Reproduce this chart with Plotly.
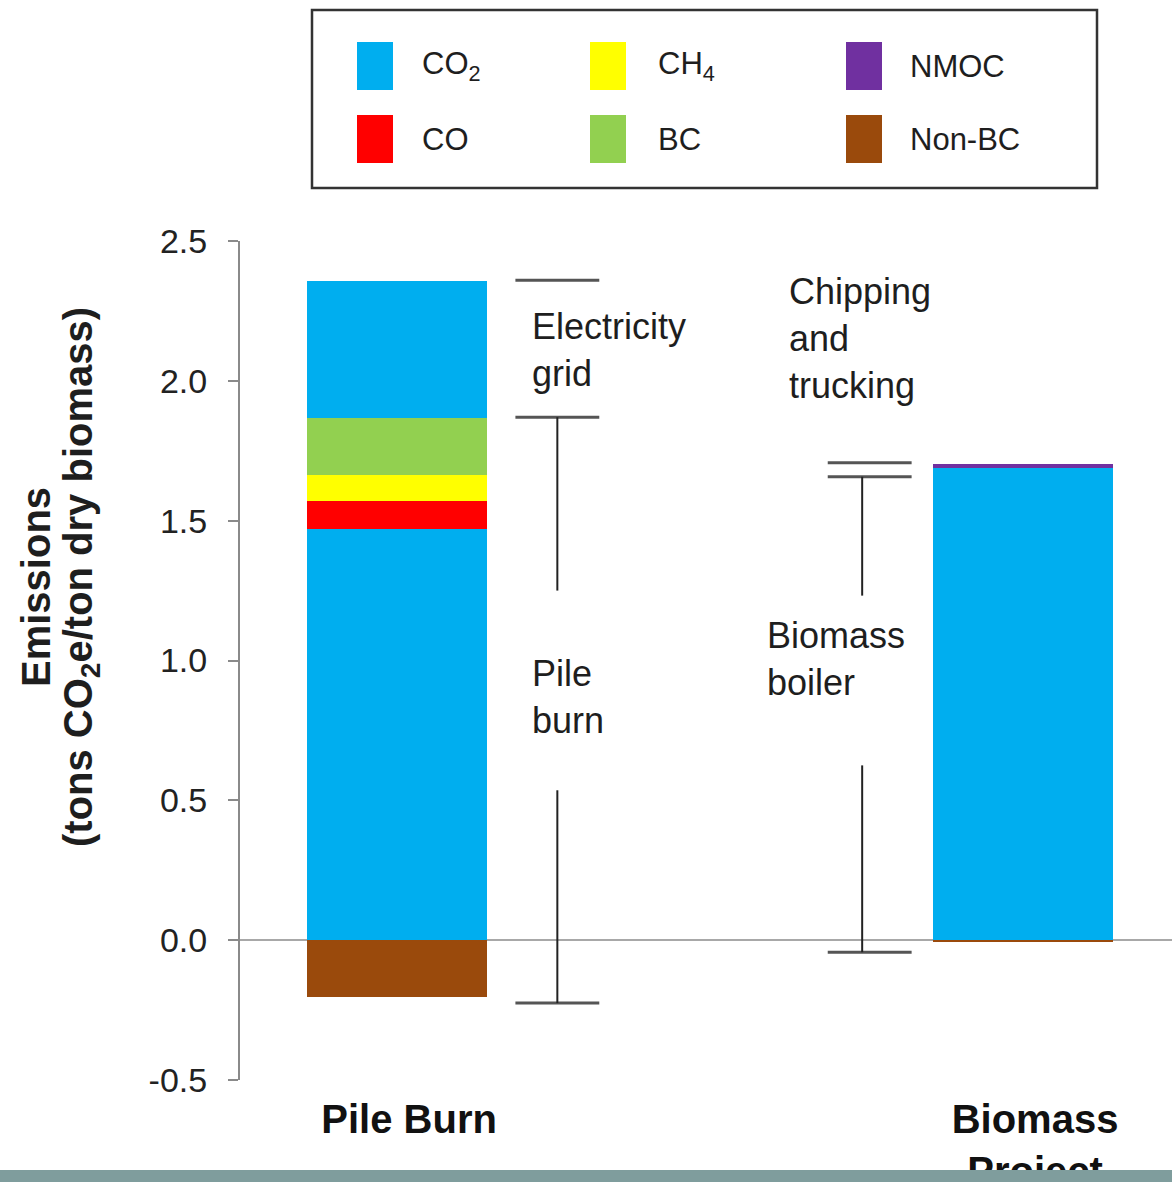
import plotly.graph_objects as go

# ---------------- data ----------------
categories = ["Pile Burn", "Biomass<br>Project"]
co2_direct = [1.47, 1.69]
co_vals = [0.10, 0.0]
ch4_vals = [0.093, 0.0]
bc_vals = [0.204, 0.0]
nmoc_vals = [0.0, 0.012]
co2_grid = [0.489, 0.0]
nonbc_vals = [-0.204, -0.006]

pile_bracket_levels = [2.36, 1.87, -0.225]      # electricity grid top, split, pile burn bottom
biomass_bracket_levels = [1.707, 1.657, -0.043]  # chipping top, split, boiler bottom

ytick_vals = [-0.5, 0.0, 0.5, 1.0, 1.5, 2.0, 2.5]
ytick_text = ["-0.5", "0.0", "0.5", "1.0", "1.5", "2.0", "2.5"]

legend_names = ["CO<sub>2</sub>", "CH<sub>4</sub>", "NMOC", "CO", "BC", "Non-BC"]
legend_colors = ["#00AEEF", "#FFFF00", "#7030A0", "#FF0000", "#92D050", "#9A4A0C"]

C_CO2, C_CH4, C_NMOC, C_CO, C_BC, C_NONBC = legend_colors

# ---------------- layout geometry ----------------
W, H = 1172, 1182
L, R, T, B = 240, 0, 241, 102
PW, PH = W - L - R, H - T - B


def px_x(px):
    return (px - L) / PW


def px_y(py):
    return (H - B - py) / PH


FONT = "Liberation Sans, Arial, sans-serif"
TXT = "#1e1e1e"
BAR_W = 0.2875

fig = go.Figure()
series = [
    ("CO2", co2_direct, C_CO2),
    ("CO", co_vals, C_CO),
    ("CH4", ch4_vals, C_CH4),
    ("BC", bc_vals, C_BC),
    ("NMOC", nmoc_vals, C_NMOC),
    ("CO2 grid", co2_grid, C_CO2),
    ("Non-BC", nonbc_vals, C_NONBC),
]
for name, vals, col in series:
    fig.add_trace(go.Bar(
        x=categories, y=vals, name=name, width=BAR_W,
        marker=dict(color=col, line=dict(width=0)),
        showlegend=False,
    ))

shapes = []
annos = []
LINE = dict(color="#222222", width=2)
CAP = dict(color="#555555", width=3)

# Pile burn brackets
px0 = 0.256
half = 0.067
for lv in pile_bracket_levels:
    shapes.append(dict(type="line", xref="x", yref="y", x0=px0 - half, x1=px0 + half,
                       y0=lv, y1=lv, line=CAP))
shapes.append(dict(type="line", xref="x", yref="y", x0=px0, x1=px0,
                   y0=pile_bracket_levels[1], y1=1.25, line=LINE))
shapes.append(dict(type="line", xref="x", yref="y", x0=px0, x1=px0,
                   y0=0.536, y1=pile_bracket_levels[2], line=LINE))

# Biomass brackets
bx0 = 0.743
bcx = 0.755
for lv in biomass_bracket_levels:
    shapes.append(dict(type="line", xref="x", yref="y", x0=bcx - half, x1=bcx + half,
                       y0=lv, y1=lv, line=CAP))
shapes.append(dict(type="line", xref="x", yref="y", x0=bx0, x1=bx0,
                   y0=biomass_bracket_levels[1], y1=1.232, line=LINE))
shapes.append(dict(type="line", xref="x", yref="y", x0=bx0, x1=bx0,
                   y0=0.625, y1=biomass_bracket_levels[2], line=LINE))

TF = dict(family=FONT, size=36, color=TXT)
annos.append(dict(x=0.2125, y=2.109, xref="x", yref="y", text="Electricity<br>grid",
                  showarrow=False, xanchor="left", yanchor="middle", align="left", font=TF))
annos.append(dict(x=0.2125, y=0.871, xref="x", yref="y", text="Pile<br>burn",
                  showarrow=False, xanchor="left", yanchor="middle", align="left", font=TF))
annos.append(dict(x=0.623, y=2.15, xref="x", yref="y", text="Chipping<br>and<br>trucking",
                  showarrow=False, xanchor="left", yanchor="middle", align="left", font=TF))
annos.append(dict(x=0.588, y=1.004, xref="x", yref="y", text="Biomass<br>boiler",
                  showarrow=False, xanchor="left", yanchor="middle", align="left", font=TF))

# Y axis title (two lines)
YT = dict(family=FONT, size=40, color=TXT)
annos.append(dict(x=px_x(36), y=px_y(587), xref="paper", yref="paper", text="<b>Emissions</b>",
                  textangle=-90, showarrow=False, xanchor="center", yanchor="middle", font=YT))
annos.append(dict(x=px_x(81), y=px_y(577), xref="paper", yref="paper",
                  text="<b>(tons CO<sub>2</sub>e/ton dry biomass)</b>",
                  textangle=-90, showarrow=False, xanchor="center", yanchor="middle", font=YT))

# Legend box (drawn)
shapes.append(dict(type="rect", xref="paper", yref="paper",
                   x0=px_x(312), x1=px_x(1097), y0=px_y(188), y1=px_y(10),
                   line=dict(color="#333333", width=2.5), fillcolor="white"))
col_sw_x = [357, 590, 846]
col_tx_x = [420, 656, 908]
row_y = [66, 139]
for i, (nm, colr) in enumerate(zip(legend_names, legend_colors)):
    r, c = divmod(i, 3)
    cy = row_y[r]
    shapes.append(dict(type="rect", xref="paper", yref="paper",
                       x0=px_x(col_sw_x[c]), x1=px_x(col_sw_x[c] + 36),
                       y0=px_y(cy + 24), y1=px_y(cy - 24),
                       line=dict(width=0), fillcolor=colr))
    annos.append(dict(x=px_x(col_tx_x[c]), y=px_y(cy), xref="paper", yref="paper",
                      text=nm, showarrow=False, xanchor="left", yanchor="middle",
                      font=dict(family=FONT, size=31, color=TXT)))

# bottom band
shapes.append(dict(type="rect", xref="paper", yref="paper",
                   x0=px_x(0), x1=px_x(W), y0=px_y(H), y1=px_y(1170),
                   line=dict(width=0), fillcolor="#7f9d9d", layer="above"))

fig.update_layout(
    width=W, height=H,
    margin=dict(l=L, r=R, t=T, b=B, pad=0, autoexpand=False),
    paper_bgcolor="white", plot_bgcolor="white",
    barmode="relative",
    bargap=0,
    shapes=shapes, annotations=annos,
    font=dict(family=FONT, color=TXT),
    showlegend=False,
)
fig.update_xaxes(
    range=[-0.251, 1.238], showgrid=False, showline=False, ticks="",
    tickfont=dict(family=FONT, size=40, color="#111111"),
    ticklabelshift=12, ticklabelstandoff=12, automargin=False,
    tickprefix="<b>", ticksuffix="</b>",
)
fig.update_yaxes(
    range=[-0.5, 2.5], showgrid=False, showline=True, linecolor="#8a8a8a", linewidth=2,
    ticks="outside", ticklen=10, tickwidth=2, tickcolor="#8a8a8a",
    tickvals=ytick_vals, ticktext=ytick_text, automargin=False,
    tickfont=dict(family=FONT, size=34, color="#222222"), ticklabelstandoff=14,
    zeroline=True, zerolinecolor="#a8a8a8", zerolinewidth=2,
)

fig.write_html("out.html", config={"displayModeBar": False},
               post_script="document.body.style.margin='0';document.body.style.overflow='hidden';")
